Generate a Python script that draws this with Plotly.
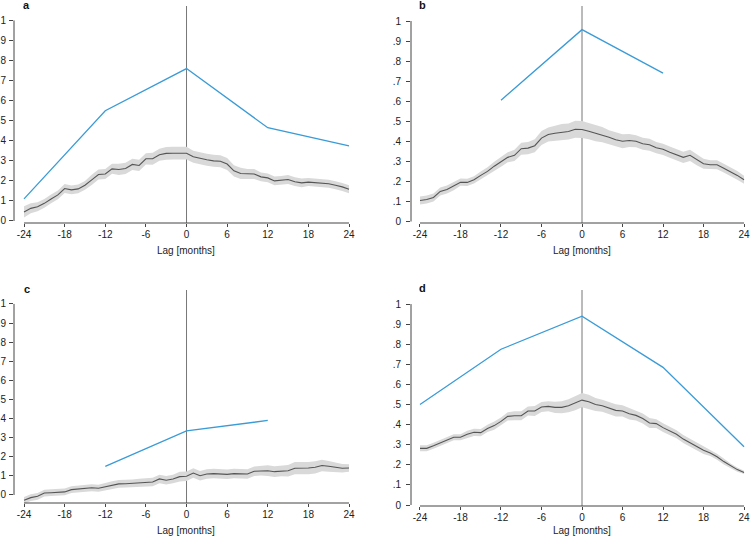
import plotly.graph_objects as go

# ---------------- data ----------------
lags = list(range(-24, 25))
blue_lags = [-24, -12, 0, 12, 24]
x_ticks = [-24, -18, -12, -6, 0, 6, 12, 18, 24]
x_ticktext = ["-24", "-18", "-12", "-6", "0", "6", "12", "18", "24"]
y_ticks = [0, 0.1, 0.2, 0.3, 0.4, 0.5, 0.6, 0.7, 0.8, 0.9, 1.0]
y_ticktext = ["0", ".1", ".2", ".3", ".4", ".5", ".6", ".7", ".8", ".9", "1"]
panel_labels = ["a", "b", "c", "d"]

a_line = [0.045, 0.063, 0.071, 0.088, 0.11, 0.13, 0.162,
          0.155, 0.16, 0.178, 0.205, 0.232, 0.234, 0.26,
          0.257, 0.262, 0.282, 0.277, 0.31, 0.31, 0.33,
          0.337, 0.338, 0.338, 0.338, 0.32, 0.312, 0.305,
          0.30, 0.298, 0.284, 0.25, 0.237, 0.234, 0.234,
          0.22, 0.215, 0.20, 0.202, 0.207, 0.196, 0.19,
          0.194, 0.192, 0.19, 0.186, 0.178, 0.17, 0.158]
a_ci = [0.028, 0.025, 0.022, 0.022, 0.022, 0.022, 0.022,
        0.022, 0.022, 0.022, 0.025, 0.025, 0.025, 0.025,
        0.028, 0.028, 0.028, 0.028, 0.028, 0.03, 0.03,
        0.032, 0.032, 0.032, 0.032, 0.03, 0.03, 0.03,
        0.03, 0.03, 0.03, 0.028, 0.028, 0.025, 0.025,
        0.022, 0.022, 0.022, 0.022, 0.022, 0.022, 0.022,
        0.02, 0.02, 0.02, 0.02, 0.02, 0.02, 0.02]
a_blue = [0.11, 0.55, 0.76, 0.465, 0.375]

b_line = [0.105, 0.11, 0.12, 0.15, 0.16, 0.176, 0.196,
          0.195, 0.208, 0.23, 0.25, 0.276, 0.298, 0.32,
          0.33, 0.363, 0.366, 0.378, 0.416, 0.434, 0.44,
          0.446, 0.449, 0.46, 0.459, 0.45, 0.44, 0.433,
          0.42, 0.408, 0.40, 0.404, 0.40, 0.388, 0.383,
          0.368, 0.36, 0.346, 0.334, 0.32, 0.33, 0.308,
          0.288, 0.283, 0.283, 0.266, 0.25, 0.23, 0.208]
b_ci = [0.02, 0.02, 0.02, 0.02, 0.02, 0.02, 0.018,
        0.018, 0.018, 0.02, 0.02, 0.022, 0.025, 0.025,
        0.028, 0.03, 0.03, 0.032, 0.035, 0.035, 0.038,
        0.04, 0.04, 0.042, 0.042, 0.04, 0.04, 0.038,
        0.035, 0.035, 0.035, 0.032, 0.03, 0.03, 0.03,
        0.028, 0.028, 0.028, 0.028, 0.028, 0.028, 0.028,
        0.025, 0.022, 0.022, 0.022, 0.022, 0.022, 0.02]
b_blue = [None, 0.605, 0.957, 0.74, None]

c_line = [-0.028, -0.014, -0.007, 0.01, 0.012, 0.014, 0.016,
          0.028, 0.031, 0.033, 0.038, 0.035, 0.044, 0.052,
          0.058, 0.059, 0.061, 0.065, 0.066, 0.068, 0.084,
          0.077, 0.084, 0.096, 0.098, 0.115, 0.101, 0.11,
          0.112, 0.11, 0.108, 0.112, 0.112, 0.11, 0.124,
          0.127, 0.127, 0.122, 0.126, 0.127, 0.14, 0.14,
          0.141, 0.145, 0.154, 0.15, 0.145, 0.14, 0.141]
c_ci = [0.018, 0.018, 0.018, 0.018, 0.018, 0.018, 0.018,
        0.018, 0.018, 0.018, 0.018, 0.018, 0.02, 0.02,
        0.02, 0.02, 0.02, 0.02, 0.02, 0.022, 0.022,
        0.022, 0.022, 0.025, 0.025, 0.025, 0.025, 0.025,
        0.025, 0.025, 0.025, 0.025, 0.025, 0.025, 0.025,
        0.025, 0.028, 0.028, 0.028, 0.03, 0.032, 0.032,
        0.032, 0.032, 0.03, 0.028, 0.025, 0.022, 0.02]
c_blue = [None, 0.15, 0.335, 0.39, None]

d_line = [0.282, 0.282, 0.295, 0.308, 0.322, 0.337, 0.337,
          0.352, 0.362, 0.36, 0.381, 0.395, 0.416, 0.441,
          0.444, 0.444, 0.468, 0.468, 0.488, 0.491, 0.486,
          0.486, 0.494, 0.506, 0.522, 0.514, 0.50, 0.494,
          0.481, 0.471, 0.468, 0.454, 0.446, 0.43, 0.408,
          0.405, 0.385, 0.368, 0.352, 0.328, 0.31, 0.292,
          0.272, 0.259, 0.24, 0.216, 0.194, 0.176, 0.162]
d_ci = [0.015, 0.015, 0.015, 0.015, 0.015, 0.015, 0.015,
        0.018, 0.018, 0.018, 0.018, 0.02, 0.02, 0.02,
        0.022, 0.022, 0.022, 0.025, 0.025, 0.025, 0.028,
        0.03, 0.032, 0.035, 0.035, 0.035, 0.032, 0.03,
        0.03, 0.03, 0.028, 0.028, 0.025, 0.025, 0.025,
        0.022, 0.022, 0.02, 0.02, 0.02, 0.02, 0.018,
        0.018, 0.015, 0.015, 0.015, 0.012, 0.01, 0.008]
d_blue = [0.50, 0.775, 0.94, 0.685, 0.29]

panels = [
    (a_line, a_ci, a_blue),
    (b_line, b_ci, b_blue),
    (c_line, c_ci, c_blue),
    (d_line, d_ci, d_blue),
]

# ---------------- layout geometry (pixels) ----------------
W, H = 750, 541
# (left px, right px, top px, bottom px, xrange, yrange, y label standoff)
geom = [
    (14, 352, 6, 223, [-25.48, 24.44], [-0.01, 1.072], 1),
    (411, 747, 6, 223, [-25.33, 24.44], [-0.0075, 1.075], 3),
    (14, 352, 290, 503, [-25.48, 24.44], [-0.042, 1.073], 1),
    (411, 747, 290, 506, [-25.33, 24.44], [-0.005, 1.07], 3),
]
label_pos = [(27, 5), (422, 5), (27, 289), (422, 288)]
title_pos = [(186, 250), (582, 250), (186, 530), (582, 530)]

BLUE = "#3a9bd7"
GRAY_LINE = "#555555"
BAND = "#d9d9d9"
AXIS = "#444444"
FONT = "Liberation Sans, Arial, Helvetica, sans-serif"
FS = 10

fig = go.Figure()
layout = dict(template="none", width=W, height=H, margin=dict(l=0, r=0, t=0, b=0, pad=0),
              paper_bgcolor="white", plot_bgcolor="white", showlegend=False,
              font=dict(family=FONT, size=FS, color="#222222"))
shapes = []
annotations = []

for i, ((line, ci, blue), (l, r, t, b, xr, yr, ystand)) in enumerate(zip(panels, geom)):
    n = "" if i == 0 else str(i + 1)
    xa, ya = "x" + n, "y" + n
    upper = [v + c for v, c in zip(line, ci)]
    lower = [v - c for v, c in zip(line, ci)]
    fig.add_trace(go.Scatter(x=lags, y=upper, mode="lines", line=dict(width=0),
                             hoverinfo="skip", xaxis=xa, yaxis=ya))
    fig.add_trace(go.Scatter(x=lags, y=lower, mode="lines", line=dict(width=0),
                             fill="tonexty", fillcolor=BAND, hoverinfo="skip",
                             xaxis=xa, yaxis=ya))
    fig.add_trace(go.Scatter(x=lags, y=line, mode="lines",
                             line=dict(color=GRAY_LINE, width=1.1),
                             xaxis=xa, yaxis=ya))
    fig.add_trace(go.Scatter(x=blue_lags, y=blue, mode="lines",
                             line=dict(color=BLUE, width=1.3),
                             connectgaps=False, xaxis=xa, yaxis=ya))

    common = dict(showgrid=False, zeroline=False, showline=False, automargin=False,
                  ticklabeloverflow="allow", tickmode="array",
                  ticks="outside", tickwidth=1, tickcolor=AXIS,
                  tickfont=dict(size=FS, color="#222222"))
    layout["xaxis" + n] = dict(domain=[l / W, r / W], range=xr, anchor=ya,
                               tickvals=x_ticks, ticktext=x_ticktext,
                               ticklen=3, ticklabelstandoff=-1, **common)
    layout["yaxis" + n] = dict(domain=[1 - b / H, 1 - t / H], range=yr, anchor=xa,
                               tickvals=y_ticks, ticktext=y_ticktext,
                               ticklen=4, ticklabelstandoff=ystand, **common)
    # axis lines (R-style: only between first and last tick)
    shapes.append(dict(type="line", xref=xa + " domain", yref=ya,
                       x0=0, x1=0, y0=y_ticks[0], y1=y_ticks[-1],
                       line=dict(color=AXIS, width=1)))
    shapes.append(dict(type="line", xref=xa, yref=ya + " domain",
                       x0=x_ticks[0], x1=x_ticks[-1], y0=0, y1=0,
                       line=dict(color=AXIS, width=1)))
    # vertical reference line at lag 0
    shapes.append(dict(type="line", xref=xa, yref=ya + " domain", layer="below",
                       x0=0, x1=0, y0=0, y1=1,
                       line=dict(color="#777777", width=1)))
    lx, ly = label_pos[i]
    annotations.append(dict(text="<b>" + panel_labels[i] + "</b>", xref="paper", yref="paper",
                            x=lx / W, y=1 - ly / H, xanchor="center", yanchor="middle",
                            showarrow=False, font=dict(size=11, color="#111111")))
    tx, ty = title_pos[i]
    annotations.append(dict(text="Lag [months]", xref="paper", yref="paper",
                            x=tx / W, y=1 - ty / H, xanchor="center", yanchor="middle",
                            showarrow=False, font=dict(size=FS, color="#222222")))

layout["shapes"] = shapes
layout["annotations"] = annotations
fig.update_layout(**layout)
fig.write_html("out.html", config={"displayModeBar": False},
               post_script="document.body.style.margin='0';document.body.style.padding='0';")
